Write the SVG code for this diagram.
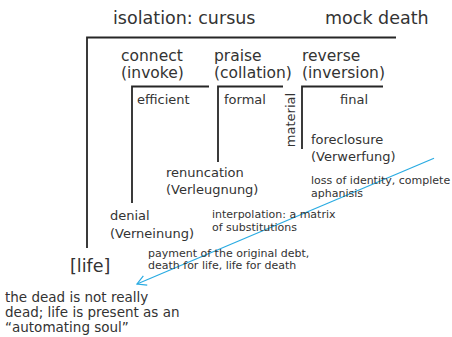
<svg xmlns="http://www.w3.org/2000/svg" width="452" height="337" viewBox="0 0 452 337">
<defs>
<style>
text{font-family:"DejaVu Sans",Verdana,sans-serif;fill:#333}
.t{font-size:17.5px}
.h{font-size:15.5px}
.m{font-size:13px}
.s{font-size:11px}
.b{font-size:13.5px}
.ln{stroke:#262626;stroke-width:1.8;fill:none}
.ar{stroke:#29abe2;stroke-width:1.2;fill:none}
</style>
<marker id="ah" markerWidth="12" markerHeight="12" refX="10" refY="6" orient="auto" markerUnits="userSpaceOnUse">
<path d="M1,1 L10,6 L1,11" stroke="#29abe2" stroke-width="1.2" fill="none"/>
</marker>
</defs>
<rect width="452" height="337" fill="#fff"/>
<g id="titles">
<text class="t" x="113" y="24">isolation: cursus</text>
<text class="t" x="325" y="24">mock death</text>
</g>
<g id="connectors">
<path class="ln" d="M87,248 V37.5 H396"/>
<path class="ln" d="M132,203 V86.5 H209"/>
<path class="ln" d="M218,162 V86.5 H283"/>
<path class="ln" d="M302,149 V86.5 H383"/>
<line class="ar" x1="434" y1="158.3" x2="137" y2="284" marker-end="url(#ah)"/>
</g>
<g id="connect"><text class="h" x="121" y="61">connect</text><text class="h" x="121" y="78">(invoke)</text></g>
<g id="praise"><text class="h" x="214" y="61">praise</text><text class="h" x="214" y="78">(collation)</text></g>
<g id="reverse"><text class="h" x="302" y="61">reverse</text><text class="h" x="302" y="78">(inversion)</text></g>
<g id="efficient"><text class="m" x="137" y="104">efficient</text></g>
<g id="formal"><text class="m" x="224" y="104">formal</text></g>
<g id="material"><text class="m" transform="translate(295,120) rotate(-90)" text-anchor="middle">material</text></g>
<g id="final"><text class="m" x="354" y="104" text-anchor="middle">final</text></g>
<g id="foreclosure"><text class="m" x="311" y="144">foreclosure</text><text class="m" x="311" y="161">(Verwerfung)</text></g>
<g id="loss"><text class="s" x="311" y="184">loss of identity, complete</text><text class="s" x="311" y="197">aphanisis</text></g>
<g id="renuncation"><text class="m" x="166" y="177">renuncation</text><text class="m" x="166" y="194">(Verleugnung)</text></g>
<g id="denial"><text class="m" x="110" y="220">denial</text><text class="m" x="110" y="238">(Verneinung)</text></g>
<g id="interpolation"><text class="s" x="212" y="217.5">interpolation: a matrix</text><text class="s" x="212" y="230.5">of substitutions</text></g>
<g id="payment"><text class="s" x="148" y="257">payment of the original debt,</text><text class="s" x="148" y="269">death for life, life for death</text></g>
<g id="life"><text class="t" x="70" y="272">[life]</text></g>
<g id="dead"><text class="b" x="5" y="302">the dead is not really</text><text class="b" x="5" y="317">dead; life is present as an</text><text class="b" x="5" y="332">“automating soul”</text></g>
</svg>
